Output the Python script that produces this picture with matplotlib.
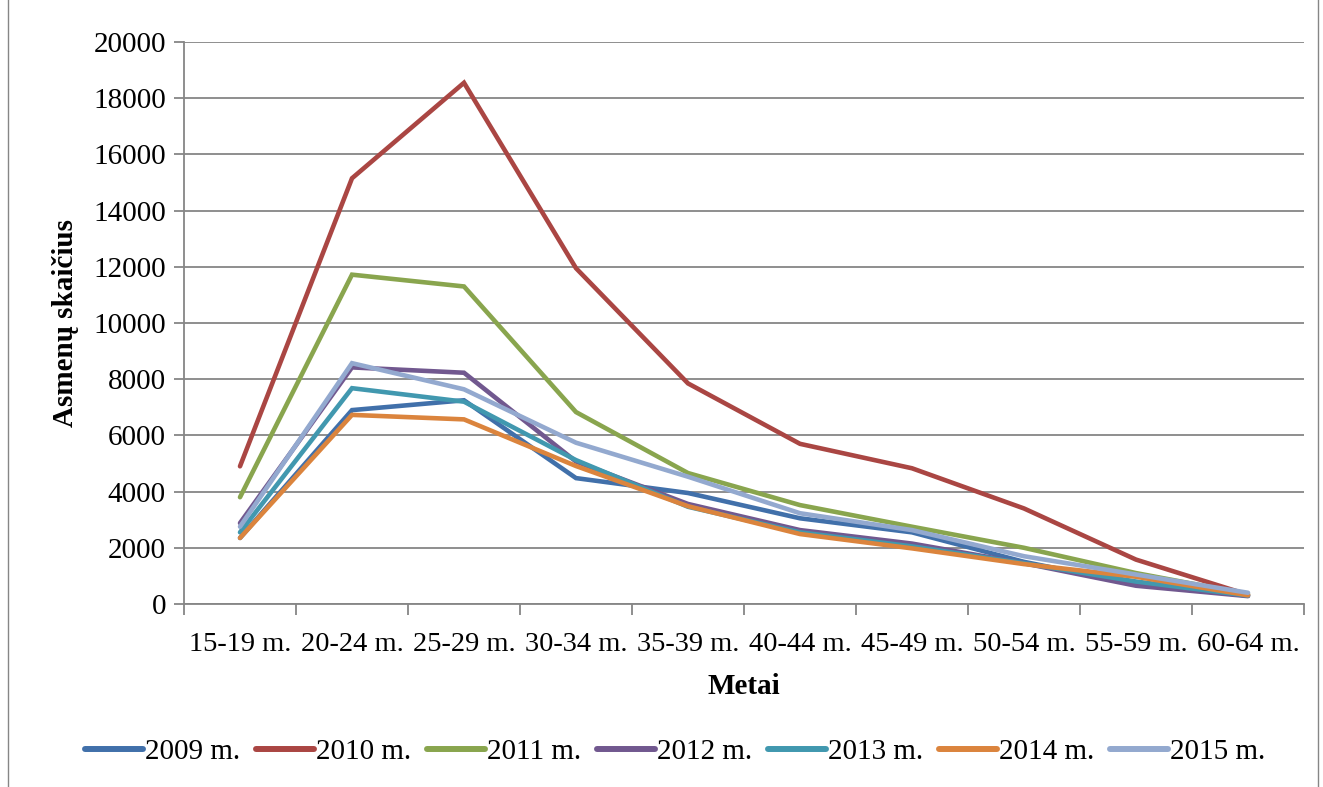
import matplotlib
matplotlib.use("Agg")
import matplotlib.pyplot as plt
from matplotlib.lines import Line2D
import numpy as np

# ----------------------------------------------------------------------
# Data
# ----------------------------------------------------------------------

age_groups = ["15-19 m.", "20-24 m.", "25-29 m.", "30-34 m.", "35-39 m.",
              "40-44 m.", "45-49 m.", "50-54 m.", "55-59 m.", "60-64 m."]

years = ["2009 m.", "2010 m.", "2011 m.", "2012 m.", "2013 m.", "2014 m.", "2015 m."]

v2009 = [2350, 6900, 7250, 4480, 3950, 3050, 2550, 1500, 700, 300]
v2010 = [4900, 15150, 18550, 11950, 7850, 5700, 4830, 3400, 1580, 330]
v2011 = [3800, 11720, 11300, 6830, 4660, 3520, 2750, 2000, 1100, 350]
v2012 = [2880, 8420, 8230, 5070, 3560, 2630, 2150, 1450, 650, 280]
v2013 = [2550, 7680, 7200, 5120, 3460, 2550, 2050, 1450, 800, 300]
v2014 = [2350, 6730, 6570, 4910, 3480, 2490, 1980, 1420, 970, 310]
v2015 = [2750, 8570, 7640, 5740, 4530, 3230, 2630, 1700, 1050, 400]

series = [v2009, v2010, v2011, v2012, v2013, v2014, v2015]
colors = ["#4170AA", "#AA4643", "#89A54E", "#71588F", "#4198AF", "#DB843D", "#93A9CF"]

# ----------------------------------------------------------------------
# Plot
# ----------------------------------------------------------------------

plt.rcParams["font.family"] = ["Liberation Serif", "DejaVu Serif"]
FS = 21

fig = plt.figure(figsize=(13.23, 7.87), dpi=100)
W, H = 1323, 787
ax = fig.add_axes([184 / W, 1 - 604 / H, (1304 - 184) / W, (604 - 42) / H])

x = np.arange(len(age_groups))
for vals, c, lab in zip(series, colors, years):
    ax.plot(x, vals, color=c, lw=3.3, label=lab, solid_capstyle="round",
            solid_joinstyle="miter")

grid_c = "#868686"
ax.set_ylim(0, 20000)
ax.set_yticks(np.arange(0, 20001, 2000))
ax.yaxis.grid(True, color=grid_c, lw=1.3)
ax.set_axisbelow(True)

ax.set_xlim(-0.5, len(age_groups) - 0.5)
ax.set_xticks(np.arange(-0.5, len(age_groups)), labels=[])
ax.set_xticks(x, labels=age_groups, minor=True)
ax.tick_params(axis="x", which="major", length=8, width=1.3, color=grid_c)
ax.tick_params(axis="x", which="minor", length=0, labelsize=FS - 0.5, pad=20)
ax.tick_params(axis="y", length=7, width=1.3, color=grid_c, labelsize=FS, pad=6)

for s in ["top", "right"]:
    ax.spines[s].set_visible(False)
for s in ["left", "bottom"]:
    ax.spines[s].set_color(grid_c)
    ax.spines[s].set_linewidth(1.3)

ax.set_ylabel("Asmenų skaičius", fontsize=FS, fontweight="bold", labelpad=10)
ax.set_xlabel("Metai", fontsize=FS, fontweight="bold", labelpad=12)

handles = [Line2D([0], [0], color=c, lw=4.3, solid_capstyle="round") for c in colors]
fig.legend(handles, years, loc="center", bbox_to_anchor=(675 / W, 1 - 752 / H),
           ncol=7, frameon=False, fontsize=FS, handlelength=2.0,
           handletextpad=0.05, columnspacing=0.55)

# outer chart border (left/right visible in reference)
fig.add_artist(plt.Rectangle((8 / W, -0.01), (1318 - 8) / W, 1.02,
                             transform=fig.transFigure, fill=False,
                             edgecolor=grid_c, lw=1))

fig.savefig("out.png", dpi=100)
